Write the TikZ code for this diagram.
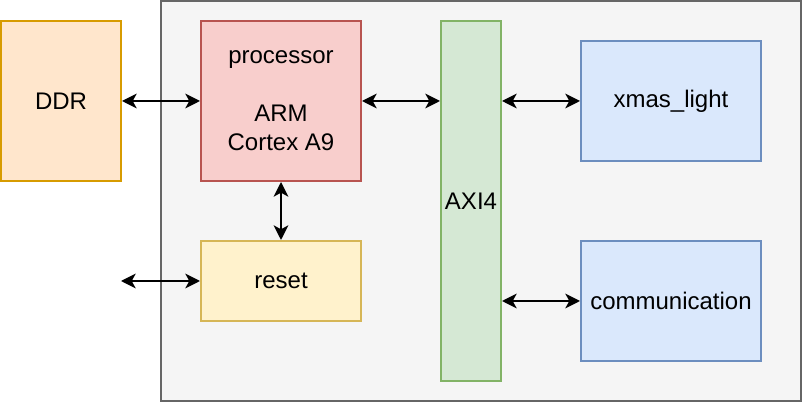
\documentclass[tikz,border=0pt]{standalone}
\usepackage{fontspec}
\setmainfont{Liberation Sans}
\usetikzlibrary{arrows.meta}
\definecolor{contfill}{HTML}{F5F5F5}
\definecolor{contline}{HTML}{666666}
\definecolor{ddrfill}{HTML}{FFE6CC}
\definecolor{ddrline}{HTML}{D79B00}
\definecolor{procfill}{HTML}{F8CECC}
\definecolor{procline}{HTML}{B85450}
\definecolor{rstfill}{HTML}{FFF2CC}
\definecolor{rstline}{HTML}{D6B656}
\definecolor{axifill}{HTML}{D5E8D4}
\definecolor{axiline}{HTML}{82B366}
\definecolor{bluefill}{HTML}{DAE8FC}
\definecolor{blueline}{HTML}{6C8EBF}
\tikzset{
  blk/.style={draw, line width=1.5pt, inner sep=0pt, outer sep=0pt, align=center, font=\fontsize{18pt}{21.75pt}\selectfont, anchor=north west},
  tip/.tip={Stealth[length=11pt,width=11pt,inset=3pt]},
  conn/.style={line width=1.5pt, tip-tip},
}
\begin{document}
\begin{tikzpicture}[x=0.75pt,y=-0.75pt]
\useasboundingbox (0,0) rectangle (804,402);
\node[draw=contline, fill=contfill, line width=1.5pt, minimum width=640*0.75pt, minimum height=400*0.75pt, anchor=north west, inner sep=0pt, outer sep=0pt] (cont) at (161,1) {};
\node[blk, draw=ddrline, fill=ddrfill, minimum width=120*0.75pt, minimum height=160*0.75pt] (ddr) at (1,21) {DDR};
\node[blk, draw=procline, fill=procfill, minimum width=160*0.75pt, minimum height=160*0.75pt] (proc) at (201,21) {processor\\\mbox{}\\ARM\\Cortex A9};
\node[blk, draw=rstline, fill=rstfill, minimum width=160*0.75pt, minimum height=80*0.75pt] (rst) at (201,241) {reset};
\node[blk, draw=axiline, fill=axifill, minimum width=60*0.75pt, minimum height=360*0.75pt] (axi) at (441,21) {AXI4};
\node[blk, draw=blueline, fill=bluefill, minimum width=180*0.75pt, minimum height=120*0.75pt] (xmas) at (581,41) {xmas\_light};
\node[blk, draw=blueline, fill=bluefill, minimum width=180*0.75pt, minimum height=120*0.75pt] (comm) at (581,241) {communication};
\coordinate (free) at (121,281);
\draw[conn, shorten <=0.75pt, shorten >=0.75pt] (ddr.east) -- (proc.west);
\draw[conn, shorten <=0.75pt, shorten >=0.75pt] (proc.south) -- (rst.north);
\draw[conn, shorten >=0.75pt] (free) -- (rst.west);
\draw[conn, shorten <=0.75pt, shorten >=0.75pt] (proc.east) -- (axi.west |- proc.east);
\draw[conn, shorten <=0.75pt, shorten >=0.75pt] (axi.east |- xmas.west) -- (xmas.west);
\draw[conn, shorten <=0.75pt, shorten >=0.75pt] (axi.east |- comm.west) -- (comm.west);
\end{tikzpicture}
\end{document}
